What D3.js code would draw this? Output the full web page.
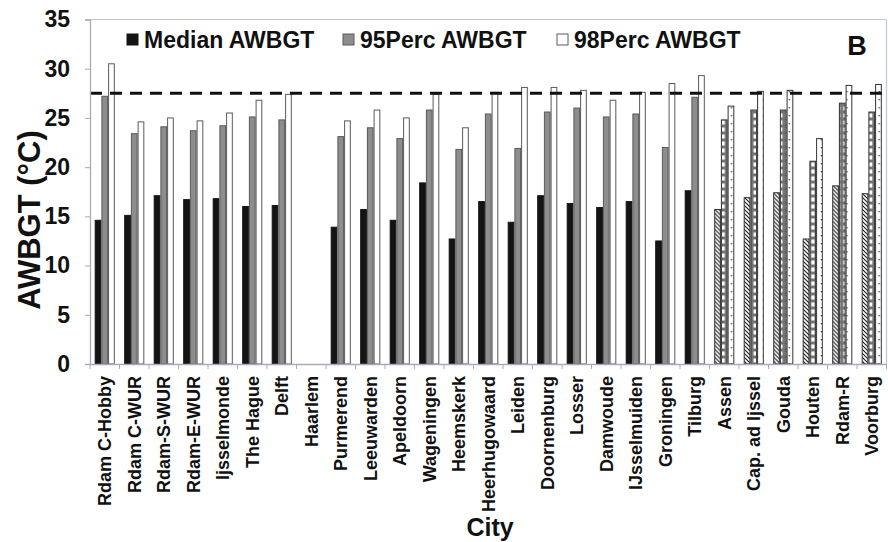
<!DOCTYPE html>
<html>
<head>
<meta charset="utf-8">
<script src="https://cdn.jsdelivr.net/npm/d3@7"></script>
<style>
  html, body { margin: 0; padding: 0; background: #fff; }
  svg { display: block; font-family: "Liberation Sans", Arial, sans-serif; }
</style>
</head>
<body>
<svg id="chart" width="888" height="542"></svg>
<script>
// ---------- data ----------
const cities = ["Rdam C-Hobby","Rdam C-WUR","Rdam-S-WUR","Rdam-E-WUR","Ijsselmonde","The Hague","Delft","Haarlem",
  "Purmerend","Leeuwarden","Apeldoorn","Wageningen","Heemskerk","Heerhugowaard","Leiden","Doornenburg","Losser",
  "Damwoude","IJsselmuiden","Groningen","Tilburg","Assen","Cap. ad Ijssel","Gouda","Houten","Rdam-R","Voorburg"];
const medianAWBGT = [14.6,15.1,17.1,16.7,16.8,16.0,16.1,null,13.9,15.7,14.6,18.4,12.7,16.5,14.4,17.1,16.3,15.9,16.5,12.5,17.6,15.7,16.9,17.4,12.7,18.1,17.3];
const perc95AWBGT = [27.2,23.4,24.1,23.7,24.2,25.1,24.8,null,23.1,24.0,22.9,25.8,21.8,25.4,21.9,25.6,26.0,25.1,25.4,22.0,27.1,24.8,25.8,25.8,20.6,26.5,25.6];
const perc98AWBGT = [30.5,24.6,25.0,24.7,25.5,26.8,27.4,null,24.7,25.8,25.0,27.4,24.0,27.6,28.1,28.1,27.8,26.8,27.6,28.5,29.3,26.2,27.7,27.8,22.9,28.3,28.4];
const patternedCities = ["Assen","Cap. ad Ijssel","Gouda","Houten","Rdam-R","Voorburg"];
const seriesNames = ["Median AWBGT","95Perc AWBGT","98Perc AWBGT"];
const yTicks = [0,5,10,15,20,25,30,35];
const threshold = 27.5;
const panelLabel = "B";

// ---------- layout ----------
const svg = d3.select("#chart");
const pLeft = 90, pRight = 886.5, pTop = 19.5, pBottom = 364;

const x = d3.scaleBand().domain(cities).range([pLeft, pRight]).paddingInner(0).paddingOuter(0);
const xs = d3.scaleBand().domain(seriesNames).range([0, x.bandwidth()]).paddingInner(0).paddingOuter(0.7);
const y = d3.scaleLinear().domain([0, 35]).range([pBottom, pTop]);

const rows = cities.map((c, i) => ({
  city: c, i,
  values: [medianAWBGT[i], perc95AWBGT[i], perc98AWBGT[i]],
  patterned: patternedCities.includes(c)
}));

// ---------- patterns ----------
const defs = svg.append("defs");
defs.append("pattern").attr("id", "hatch").attr("patternUnits", "userSpaceOnUse")
  .attr("width", 4).attr("height", 4)
  .call(p => {
    p.append("rect").attr("width", 4).attr("height", 4).attr("fill", "#fff");
    p.append("path").attr("d", "M-1,-1 L5,5 M-1,3 L1,5 M3,-1 L5,1").attr("stroke", "#222").attr("stroke-width", 1.2);
  });
rows.filter(r => r.patterned).forEach(r => {
  const w = xs.bandwidth();
  const bx = x(r.city) + xs(seriesNames[1]);
  const p = defs.append("pattern").attr("id", "chk" + r.i).attr("patternUnits", "userSpaceOnUse")
    .attr("x", bx).attr("y", 0).attr("width", w).attr("height", 7);
  p.append("rect").attr("width", w).attr("height", 7).attr("fill", "#747474");
  p.append("rect").attr("x", 1.6).attr("y", 1.5).attr("width", w - 3.2).attr("height", 4).attr("fill", "#fff");
  const bx2 = x(r.city) + xs(seriesNames[2]);
  const p2 = defs.append("pattern").attr("id", "dot" + r.i).attr("patternUnits", "userSpaceOnUse")
    .attr("x", bx2).attr("y", 0).attr("width", w).attr("height", 8);
  p2.append("rect").attr("width", w).attr("height", 8).attr("fill", "#fff");
  p2.append("rect").attr("x", w - 2.2).attr("y", 3).attr("width", 1.4).attr("height", 1.4).attr("fill", "#555");
});

// ---------- frame ----------
svg.append("line").attr("x1", pLeft).attr("x2", pRight).attr("y1", pTop).attr("y2", pTop)
  .attr("stroke", "#c4c6d0").attr("stroke-width", 1.2);
svg.append("line").attr("x1", pRight).attr("x2", pRight).attr("y1", pTop).attr("y2", pBottom)
  .attr("stroke", "#c4c6d0").attr("stroke-width", 1.2);

// ---------- bars ----------
const fills = ["#141414", "#8d8d8d", "#ffffff"];
const strokes = ["#141414", "#5a5a5a", "#5a5a5a"];
const groups = svg.append("g").selectAll("g").data(rows).join("g")
  .attr("transform", d => `translate(${x(d.city)},0)`);
groups.selectAll("rect").data(d => d.values.map((v, k) => ({ v, k, row: d })).filter(e => e.v != null))
  .join("rect")
  .attr("x", e => xs(seriesNames[e.k]) + 0.5)
  .attr("width", xs.bandwidth() - 1)
  .attr("y", e => y(e.v))
  .attr("height", e => y(0) - y(e.v))
  .attr("fill", e => {
    if (!e.row.patterned) return fills[e.k];
    if (e.k === 0) return "url(#hatch)";
    if (e.k === 1) return `url(#chk${e.row.i})`;
    return `url(#dot${e.row.i})`;
  })
  .attr("stroke", e => e.row.patterned ? "#333" : strokes[e.k])
  .attr("stroke-width", 1);

// ---------- threshold ----------
svg.append("line").attr("x1", pLeft).attr("x2", pRight).attr("y1", y(threshold)).attr("y2", y(threshold))
  .attr("stroke", "#111").attr("stroke-width", 3).attr("stroke-dasharray", "12,8");

// ---------- axes ----------
const yAxis = d3.axisLeft(y).tickValues(yTicks).tickSize(5).tickPadding(15).tickFormat(d3.format("d"));
const gy = svg.append("g").attr("transform", `translate(${pLeft},0)`).call(yAxis);
gy.select(".domain").attr("stroke", "#a9abb8").attr("stroke-width", 1.3);
gy.selectAll(".tick line").attr("stroke", "#a9abb8");
gy.selectAll(".tick text").attr("font-size", 23).attr("font-weight", "bold").attr("fill", "#111")
  .attr("font-family", "Liberation Sans, Arial, sans-serif");

const xAxis = d3.axisBottom(x).tickSize(0).tickPadding(0);
const gx = svg.append("g").attr("transform", `translate(0,${pBottom})`).call(xAxis);
gx.select(".domain").attr("stroke", "#a9abb8").attr("stroke-width", 1.3);
gx.selectAll(".tick text")
  .attr("font-size", 18).attr("font-weight", "bold").attr("fill", "#111")
  .attr("font-family", "Liberation Sans, Arial, sans-serif")
  .attr("text-anchor", "end").attr("dy", "0.35em")
  .attr("transform", "translate(0,12) rotate(-90)")
  .attr("x", 0).attr("y", 0);
gx.selectAll(".bound").data(d3.range(cities.length + 1)).join("line")
  .attr("class", "bound")
  .attr("x1", i => pLeft + i * x.bandwidth()).attr("x2", i => pLeft + i * x.bandwidth())
  .attr("y1", 0).attr("y2", 5).attr("stroke", "#a9abb8");

// ---------- titles ----------
svg.append("text").attr("transform", "translate(40,220) rotate(-90)")
  .attr("text-anchor", "middle").attr("font-size", 31).attr("font-weight", "bold").attr("fill", "#111")
  .text("AWBGT (°C)");
svg.append("text").attr("x", 490).attr("y", 536).attr("text-anchor", "middle")
  .attr("font-size", 25).attr("font-weight", "bold").attr("fill", "#111").text("City");
svg.append("text").attr("x", 857).attr("y", 55).attr("text-anchor", "middle")
  .attr("font-size", 27).attr("font-weight", "bold").attr("fill", "#111").text(panelLabel);

// ---------- legend ----------
const legendX = [127, 343, 557];
const lg = svg.append("g").selectAll("g").data(seriesNames).join("g")
  .attr("transform", (d, k) => `translate(${legendX[k]},0)`);
lg.append("rect").attr("x", 0).attr("y", 34).attr("width", 11).attr("height", 11)
  .attr("fill", (d, k) => fills[k]).attr("stroke", (d, k) => strokes[k]).attr("stroke-width", 1);
lg.append("text").attr("x", 17).attr("y", 48).attr("font-size", 23).attr("font-weight", "bold")
  .attr("fill", "#111").text(d => d);
</script>
</body>
</html>
